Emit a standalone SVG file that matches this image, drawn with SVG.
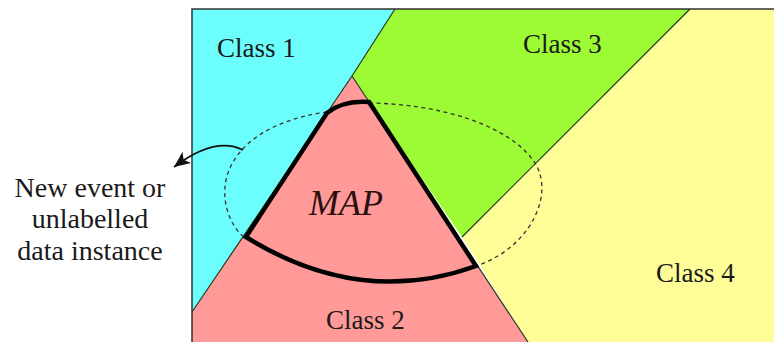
<svg xmlns="http://www.w3.org/2000/svg" width="774" height="342" viewBox="0 0 774 342">
<style>
.lbl{font-family:"Liberation Serif","Times New Roman",serif;font-size:27px;fill:#1a1a1a}
.side{font-family:"Liberation Serif","Times New Roman",serif;font-size:28px;fill:#1a1a1a;text-anchor:middle}
.map{font-family:"Liberation Serif","Times New Roman",serif;font-size:36px;font-style:italic;fill:#2a1010}
.bd{stroke:#1f3a1f;stroke-width:1.2;fill:none}
.dash{stroke:#333;stroke-width:1.3;fill:none;stroke-dasharray:4 3.5}
</style>
<defs>
<marker id="ah" markerUnits="userSpaceOnUse" markerWidth="20" markerHeight="20" viewBox="0 0 20 20" refX="17" refY="10" orient="auto">
<path d="M17,10 L1,3 L5,10 L1,17 Z" fill="#111"/>
</marker>
</defs>
<rect width="774" height="342" fill="#fff"/>
<g id="class1"><polygon points="192,9 395,9 352,76 192,312" fill="#6cfdfd"/><text class="lbl" x="217" y="57">Class 1</text></g>
<g id="class3"><polygon points="395,9 690,9 462,237 352,76" fill="#9cfb35"/><text class="lbl" x="523" y="53">Class 3</text></g>
<g id="class4"><polygon points="690,9 774,9 774,342 528,342 462,237" fill="#fefd98"/><text class="lbl" x="656" y="282">Class 4</text></g>
<g id="neighbourhood">
<path class="dash" d="M369,103 C440,104 510,125 535,163 C555,195 530,248 476,266"/>
<path class="dash" d="M327,112 C280,118 235,140 226,180 C221,205 232,228 245,238"/>
</g>
<g id="class2"><polygon points="352,76 528,342 192,342 192,312" fill="#ff9a98"/><text class="lbl" x="326" y="329">Class 2</text></g>
<g id="boundaries">
<line class="bd" x1="395" y1="9" x2="352" y2="76"/>
<line class="bd" x1="352" y1="76" x2="192" y2="312"/>
<line class="bd" x1="352" y1="76" x2="528" y2="342"/>
<line class="bd" x1="690" y1="9" x2="462" y2="237"/>
<path d="M192,342 V9 H774" stroke="#333" stroke-width="1.5" fill="none"/>
</g>
<g id="map">
<path d="M327,113 Q343,100 369,102 L476,266 Q360,308 246,237 Z" fill="none" stroke="#000" stroke-width="4.5" stroke-linejoin="miter"/>
<text class="map" x="309" y="215">MAP</text>
</g>
<g id="connectors">
<path d="M243,150 Q215,136 174,167" stroke="#111" stroke-width="1.8" fill="none" marker-end="url(#ah)"/>
</g>
<g id="new-event">
<text class="side" x="90" y="197">New event or</text>
<text class="side" x="90" y="228">unlabelled</text>
<text class="side" x="90" y="260">data instance</text>
</g>
</svg>
